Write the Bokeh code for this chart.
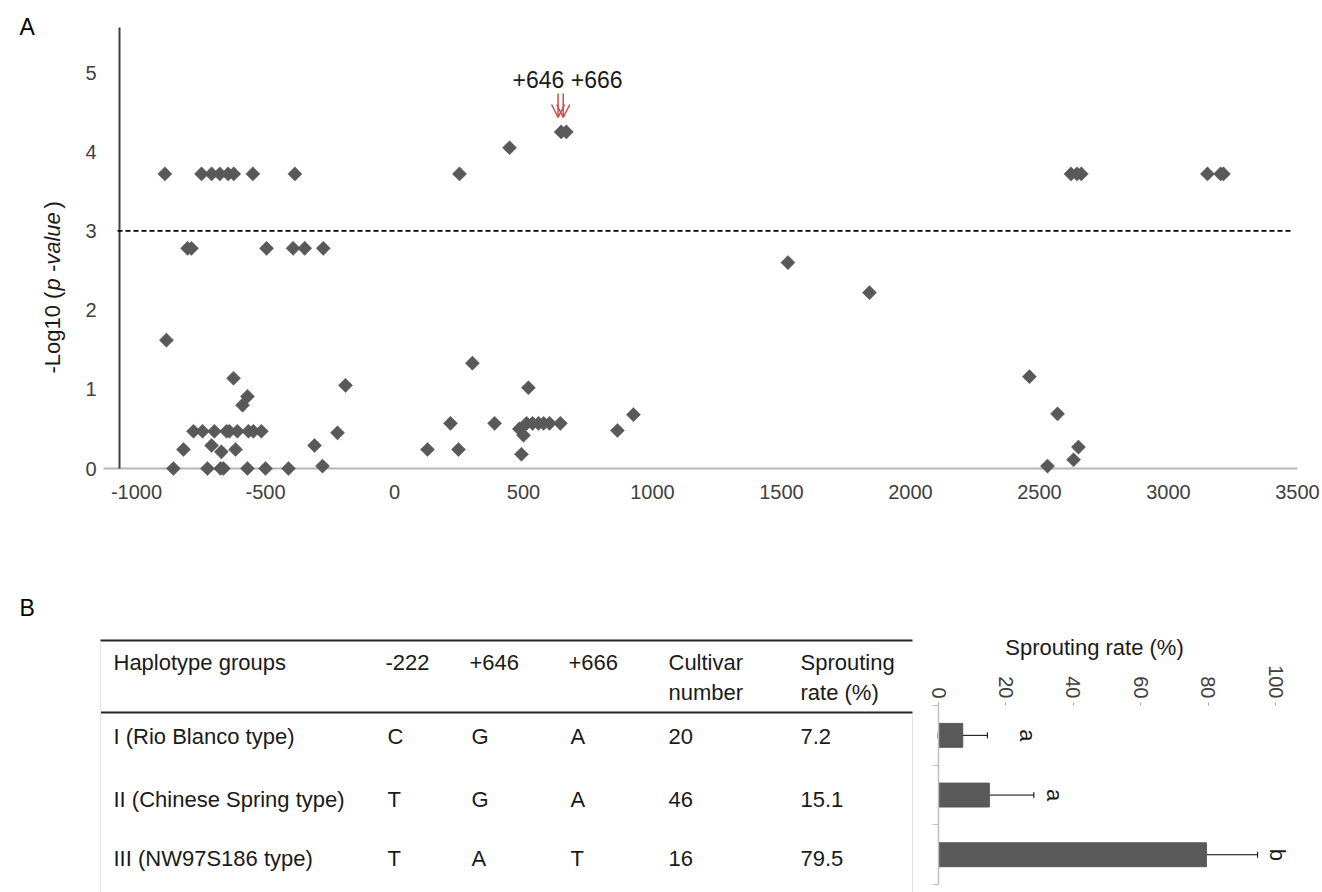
import math
from bokeh.plotting import figure
from bokeh.models import (Range1d, FixedTicker, Arrow, OpenHead, Whisker, TeeHead,
                          ColumnDataSource)
from bokeh.layouts import column
from bokeh.embed import file_html
from bokeh.resources import INLINE
from bokeh.core.properties import value

FONT = "Liberation Sans"

# ---------------- Panel A data ----------------
snp_pos = [
    -890, -748, -709, -677, -645, -623, -549, -386, 252, 2622, 2645, 2662, 3151, 3202, 3213,
    446, 646, 666,
    -802, -787, -496, -393, -348, -276,
    1525, 1841, -884,
    2461, 2570, 2651, 2632, 2531,
    -624, -570, -589, -190, -221,
    -779, -744, -698, -651, -640, -609, -566, -547, -516,
    -818, -616, -709, -671, -310,
    -857, -725, -674, -663, -570, -500, -411, -279,
    128, 248, 217, 388, 302, 519, 492, 484, 500, 512, 535, 558, 578, 601, 643, 864, 926,
]
neg_log10_p = [
    3.72, 3.72, 3.72, 3.72, 3.72, 3.72, 3.72, 3.72, 3.72, 3.72, 3.72, 3.72, 3.72, 3.72, 3.72,
    4.05, 4.25, 4.25,
    2.78, 2.78, 2.78, 2.78, 2.78, 2.78,
    2.60, 2.22, 1.62,
    1.16, 0.69, 0.27, 0.11, 0.03,
    1.14, 0.91, 0.80, 1.05, 0.45,
    0.47, 0.47, 0.47, 0.47, 0.47, 0.47, 0.47, 0.47, 0.47,
    0.24, 0.24, 0.29, 0.21, 0.29,
    0.0, 0.0, 0.0, 0.0, 0.0, 0.0, 0.0, 0.03,
    0.24, 0.24, 0.57, 0.57, 1.33, 1.02, 0.18, 0.50, 0.42, 0.57, 0.57, 0.57, 0.57, 0.57, 0.57, 0.48, 0.68,
]
threshold = 3.0
marked_snps = [646, 666]
x_ticks = [-1000, -500, 0, 500, 1000, 1500, 2000, 2500, 3000, 3500]
x_tick_labels = ["-1000", "-500", "0", "500", "1000", "1500", "2000", "2500", "3000", "3500"]
y_ticks = [0, 1, 2, 3, 4, 5]
y_tick_labels = ["0", "1", "2", "3", "4", "5"]

# ---------------- Panel B data ----------------
header_row1 = ["Haplotype groups", "-222", "+646", "+666", "Cultivar", "Sprouting"]
header_row2 = ["", "", "", "", "number", "rate (%)"]
groups = [" I (Rio Blanco type)", "II (Chinese Spring type)", "III (NW97S186 type)"]
snp_m222 = ["C", "T", "T"]
snp_p646 = ["G", "G", "A"]
snp_p666 = ["A", "A", "T"]
cultivar_n = [20, 46, 16]
sprouting = [7.2, 15.1, 79.5]
sprouting_err = [7.3, 13.2, 15.2]
sig_letters = ["a", "a", "b"]
rate_ticks = [0, 20, 40, 60, 80, 100]
rate_tick_labels = ["0", "20", "40", "60", "80", "100"]

GRAY = "#595959"
TXT = "#1a1a1a"
TICK = "#404040"
W = 1322
LEFT = 18

# ================= Panel A =================
# layout mapping: px = 394 + 0.258*x ; py = 468 - 79.2*y
AX0, AXS, AY0, AYS = 394.0, 0.258, 468.0, 79.2
HA = 550
BOT_A = 30
def ax_(px): return (px - AX0) / AXS
def ay_(py): return (AY0 - py) / AYS

pA = figure(width=W, height=HA, title=None,
            x_range=Range1d(ax_(LEFT), ax_(W)), y_range=Range1d(ay_(HA - BOT_A), ay_(0)),
            min_border_left=LEFT, min_border_right=0, min_border_top=0, min_border_bottom=BOT_A,
            output_backend="svg", toolbar_location=None)
pA.grid.visible = False
pA.outline_line_color = None
xa, ya = pA.xaxis[0], pA.yaxis[0]
xa.ticker = FixedTicker(ticks=x_ticks)
ya.ticker = FixedTicker(ticks=y_ticks)
xa.major_label_overrides = {t: s for t, s in zip(x_ticks, x_tick_labels)}
ya.major_label_overrides = {t: s for t, s in zip(y_ticks, y_tick_labels)}
for a in (xa, ya):
    a.axis_line_color = None
    a.major_tick_line_color = None
    a.minor_tick_line_color = None
    a.major_tick_out = 0
    a.major_tick_in = 0
    a.major_label_text_font = FONT
    a.major_label_text_font_size = "20px"
    a.major_label_text_color = TICK
xa.fixed_location = ay_(480)
xa.major_label_standoff = 4
ya.fixed_location = ax_(103)
ya.major_label_standoff = 7

# x axis baseline, y axis line, threshold
pA.segment(x0=[ax_(103)], y0=[0], x1=[3500], y1=[0], line_color="#b5b5b5", line_width=2)
pA.segment(x0=[ax_(119)], y0=[0], x1=[ax_(119)], y1=[ay_(27)], line_color="#404040", line_width=2)
pA.segment(x0=[ax_(117)], y0=[threshold], x1=[ax_(1290)], y1=[threshold],
           line_color="black", line_width=1.8, line_dash="5 3")

pA.scatter(snp_pos, neg_log10_p, marker="square", angle=math.pi / 4, size=10,
           fill_color=GRAY, line_color=GRAY, line_width=0.5)

for m in marked_snps:
    pA.add_layout(Arrow(x_start=m - 12, y_start=ay_(93), x_end=m - 12, y_end=ay_(117),
                        line_color="#c0504d", line_width=1.5,
                        end=OpenHead(size=13, line_color="#c0504d", line_width=1.5)))
pA.text(x=[ax_(512)], y=[ay_(79)], text=[" ".join("+%d" % m for m in marked_snps)],
        text_font=value(FONT), text_font_size="23px", text_color=TXT,
        text_align="left", text_baseline="middle")

# y axis title (with italic part) and panel letter
lx = ax_(52)
pA.text(x=[lx, lx], y=[ay_(373), ay_(373 - 165)], text=["-Log10 (", ")"], angle=math.pi / 2,
        text_font=value(FONT), text_font_size="22px", text_color=TXT,
        text_align="left", text_baseline="middle")
pA.text(x=[lx], y=[ay_(373 - 83)], text=["p -value"], angle=math.pi / 2,
        text_font=value(FONT), text_font_size="22px", text_font_style="italic", text_color=TXT,
        text_align="left", text_baseline="middle")
pA.text(x=[ax_(LEFT + 1)], y=[ay_(26)], text=["A"], text_font=value(FONT), text_font_size="23px",
        text_color="black", text_align="left", text_baseline="middle")

# ================= Panel B (table + rotated bar chart) =================
# layout mapping: px = 938 + 3.37*x ; py = 705 + 59.7*y
BX0, BXS, BY0, BYS = 938.0, 3.37, 705.0, 59.7
HB = 892 - HA
TOP_B = 44
def bx(px): return (px - BX0) / BXS
def by(py): return (py - BY0) / BYS

pB = figure(width=W, height=HB, title=None,
            x_range=Range1d(bx(LEFT), bx(W)), y_range=Range1d(by(892), by(HA + TOP_B)),
            x_axis_location="above",
            min_border_left=LEFT, min_border_right=0, min_border_top=TOP_B, min_border_bottom=0,
            output_backend="svg", toolbar_location=None)
pB.grid.visible = False
pB.outline_line_color = None

bxa = pB.xaxis[0]
bxa.ticker = FixedTicker(ticks=rate_ticks)
bxa.major_label_overrides = {t: s for t, s in zip(rate_ticks, rate_tick_labels)}
bxa.major_label_orientation = -math.pi / 2
bxa.fixed_location = 0
bxa.bounds = (0, 100)
bxa.axis_line_color = None
bxa.major_tick_in = 0
bxa.major_tick_out = 3
bxa.major_tick_line_color = "#a6a6a6"
bxa.minor_tick_line_color = None
bxa.major_label_text_font = FONT
bxa.major_label_text_font_size = "20px"
bxa.major_label_text_color = TICK
bxa.major_label_standoff = 4

bya = pB.yaxis[0]
bya.ticker = FixedTicker(ticks=[0, 1, 2, 3])
bya.major_label_overrides = {0: "", 1: "", 2: "", 3: ""}
bya.major_label_text_font_size = "0px"
bya.major_label_standoff = 0
bya.fixed_location = 0
bya.bounds = (0, 3)
bya.axis_line_color = "#bfbfbf"
bya.axis_line_width = 1.5
bya.major_tick_line_color = "#bfbfbf"
bya.major_tick_out = 6
bya.major_tick_in = 0
bya.minor_tick_line_color = None

ypos = [i + 0.5 for i in range(len(groups))]
pB.hbar(y=ypos, left=0, right=sprouting, height=0.4, fill_color=GRAY, line_color=GRAY)
src = ColumnDataSource(dict(y=ypos,
                            lo=[m - e for m, e in zip(sprouting, sprouting_err)],
                            hi=[m + e for m, e in zip(sprouting, sprouting_err)]))
pB.add_layout(Whisker(source=src, base="y", lower="lo", upper="hi", dimension="width",
                      line_color="black", line_width=1,
                      lower_head=TeeHead(size=6, line_color="black", line_width=1),
                      upper_head=TeeHead(size=6, line_color="black", line_width=1)))
letter_gap = [12, 6, 6]
pB.text(x=[m + e + g for m, e, g in zip(sprouting, sprouting_err, letter_gap)], y=ypos,
        text=sig_letters, angle=-math.pi / 2, text_font=value(FONT), text_font_size="22px",
        text_color=TXT, text_align="center", text_baseline="middle")
pB.text(x=[bx(1094)], y=[by(647)], text=["Sprouting rate (%)"], text_font=value(FONT),
        text_font_size="22px", text_color=TXT, text_align="center", text_baseline="middle")

# table
col_px = [113, 385, 469, 568, 668, 800]
head_py1, head_py2 = 662, 692
row_py = [736, 799, 858]

pB.text(x=[bx(LEFT + 1)], y=[by(607)], text=["B"], text_font=value(FONT), text_font_size="23px",
        text_color="black", text_align="left", text_baseline="middle")
pB.segment(x0=[bx(100)] * 2, y0=[by(640), by(712)], x1=[bx(912)] * 2, y1=[by(640), by(712)],
           line_color="#262626", line_width=2)
pB.segment(x0=[bx(100), bx(912)], y0=[by(641), by(713)], x1=[bx(100), bx(912)], y1=[by(892)] * 2,
           line_color="#e3e3e3", line_width=1)

tx, ty, tt = [], [], []
for i, (a, b) in enumerate(zip(header_row1, header_row2)):
    tx.append(bx(col_px[i])); ty.append(by(head_py1)); tt.append(a)
    if b:
        tx.append(bx(col_px[i])); ty.append(by(head_py2)); tt.append(b)
for r in range(len(groups)):
    vals = [groups[r], snp_m222[r], snp_p646[r], snp_p666[r], str(cultivar_n[r]), "%.1f" % sprouting[r]]
    for i, v in enumerate(vals):
        tx.append(bx(col_px[i] + (2 if 0 < i < 4 else 0))); ty.append(by(row_py[r])); tt.append(v)
pB.text(x=tx, y=ty, text=tt, text_font=value(FONT), text_font_size="22px",
        text_color=TXT, text_align="left", text_baseline="middle")

layout = column(pA, pB)
open("out.html", "w").write(file_html(layout, INLINE))
